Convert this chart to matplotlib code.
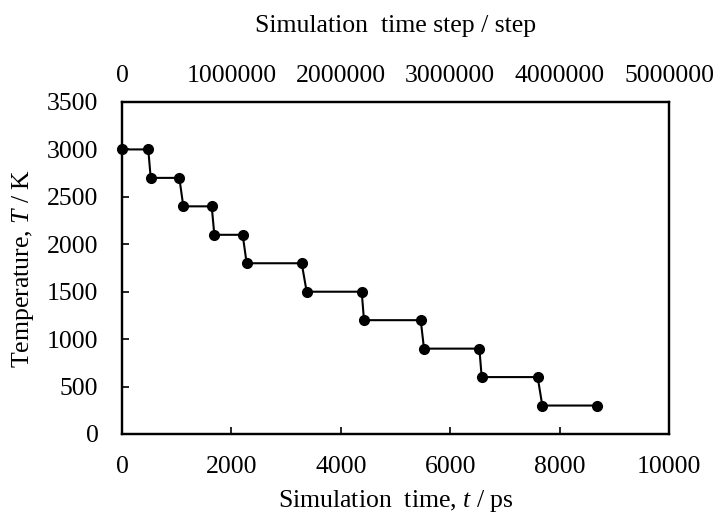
import matplotlib
matplotlib.use("Agg")
import matplotlib.pyplot as plt

plt.rcParams['font.family'] = ['Liberation Serif', 'DejaVu Serif']
plt.rcParams['mathtext.fontset'] = 'custom'
plt.rcParams['mathtext.rm'] = 'Liberation Serif'
plt.rcParams['mathtext.it'] = 'Liberation Serif:italic'

time_ps = [0, 480, 525, 1048, 1121, 1640, 1688, 2206, 2279, 3285,
           3376, 4382, 4424, 5461, 5521, 6533, 6576, 7599, 7684, 8678]
temperature_K = [3000, 3000, 2700, 2700, 2400, 2400, 2100, 2100, 1800, 1800,
                 1500, 1500, 1200, 1200, 900, 900, 600, 600, 300, 300]
x_ticks = [0, 2000, 4000, 6000, 8000, 10000]
y_ticks = [0, 500, 1000, 1500, 2000, 2500, 3000, 3500]
step_ticks = [0, 1000000, 2000000, 3000000, 4000000, 5000000]

FS = 18.5
W, H = 718, 515
L, R, T, B = 122, 669, 102, 434

fig = plt.figure(figsize=(W/100, H/100), dpi=100)
ax = fig.add_axes([L/W, 1-B/H, (R-L)/W, (B-T)/H])

ax.plot(time_ps, temperature_K, color='black', lw=1.5, marker='o', ms=7,
        clip_on=False, zorder=3)
ax.set_xlim(0, 10000)
ax.set_ylim(0, 3500)
ax.set_xticks(x_ticks)
ax.set_yticks(y_ticks)
ax.tick_params(direction='in', length=5, width=1.2, labelsize=FS)
ax.tick_params(axis='x', pad=15.5)
ax.tick_params(axis='y', pad=17)
for s in ax.spines.values():
    s.set_linewidth(1.6)

ax.set_xlabel('Simulation  time, $t$ / ps', fontsize=FS, va='baseline')
ax.xaxis.set_label_coords(0.5, (B-507)/(B-T))
ax.set_ylabel('Temperature, $T$ / K', fontsize=FS, va='center')
ax.yaxis.set_label_coords((23.5-L)/(R-L), 0.5)

ax2 = ax.twiny()
ax2.set_xlim(0, 5000000)
ax2.set_xticks(step_ticks)
ax2.set_xticklabels([str(v) for v in step_ticks])
ax2.tick_params(axis='x', length=0, labelsize=FS, pad=10.5)
for s in ax2.spines.values():
    s.set_linewidth(1.6)
ax2.set_xlabel('Simulation  time step / step', fontsize=FS, va='baseline')
ax2.xaxis.set_label_coords(0.5, (B-32)/(B-T))

fig.savefig('out.png', dpi=100)
